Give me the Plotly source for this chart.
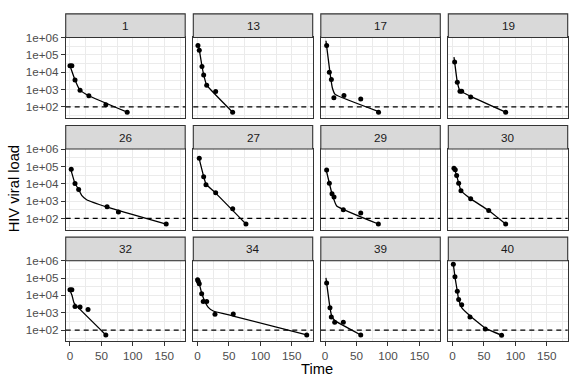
import plotly.graph_objects as go

# ---------------- data (log10 viral load) ----------------
patients = ["1", "13", "17", "19", "26", "27", "29", "30", "32", "34", "39", "40"]

obs_time = {
    "1":  [0, 3, 8, 16, 30, 57, 91],
    "13": [0.6, 2.7, 7, 9.7, 14.5, 28.8, 55.8],
    "17": [2.5, 6.8, 10, 14, 30, 56.7, 85],
    "19": [3.3, 7.5, 11.8, 14.5, 28.8, 84.5],
    "26": [2, 8, 13.8, 59, 77, 153],
    "27": [2.7, 9.7, 13.4, 28.8, 55.9, 77],
    "29": [2.5, 6.8, 11, 14.2, 29, 56.7, 84.7],
    "30": [2.2, 4.3, 6.5, 9.7, 13.4, 28.8, 57.5, 84.5],
    "32": [0, 3, 8, 16, 28.7, 57],
    "34": [0, 1.1, 2.7, 6.5, 9, 14.5, 27.7, 56.8, 173.7],
    "39": [2.5, 7.8, 9.9, 15.3, 29, 56.7],
    "40": [1.2, 3.8, 7.5, 9.7, 14.5, 27.7, 52, 78],
}
obs_log10 = {
    "1":  [4.37, 4.37, 3.55, 2.96, 2.64, 2.12, 1.69],
    "13": [5.54, 5.26, 4.33, 3.83, 3.25, 2.88, 1.69],
    "17": [5.54, 4.0, 3.57, 2.52, 2.66, 2.45, 1.69],
    "19": [4.58, 3.42, 2.9, 2.9, 2.56, 1.69],
    "26": [4.84, 4.01, 3.67, 2.68, 2.37, 1.68],
    "27": [5.47, 4.41, 3.94, 3.48, 2.56, 1.68],
    "29": [4.8, 4.03, 3.42, 3.23, 2.5, 2.31, 1.68],
    "30": [4.89, 4.81, 4.47, 4.03, 3.59, 3.13, 2.46, 1.68],
    "32": [4.33, 4.33, 3.36, 3.33, 3.18, 1.72],
    "34": [4.9, 4.81, 4.67, 4.1, 3.65, 3.65, 2.91, 2.93, 1.72],
    "39": [4.71, 3.29, 2.76, 2.45, 2.45, 1.72],
    "40": [5.79, 5.07, 4.24, 3.76, 3.46, 2.76, 2.06, 1.7],
}

fit_time = {
    "1":  [0, 8, 16, 30, 91],
    "13": [0.6, 2.7, 7, 9.7, 14.5, 55.8],
    "17": [1.4, 7.8, 11.5, 16, 85.2],
    "19": [2.2, 3.3, 7.5, 11.8, 28.8, 84.5],
    "26": [0.5, 8, 13.8, 18.6, 26.5, 59, 153],
    "27": [1.7, 9.7, 13.4, 28.8, 77],
    "29": [1.4, 6.8, 11, 18.5, 84.7],
    "30": [2.2, 6.5, 9.7, 13.4, 28.8, 57.5, 84.5],
    "32": [0, 3.2, 6.4, 11.6, 57],
    "34": [0, 2.7, 6.5, 11.8, 17, 25, 56.8, 173.7],
    "39": [1.4, 7.8, 10.5, 15.3, 56.7],
    "40": [1.2, 3.8, 7.5, 9.7, 14.5, 27.7, 52, 78],
}
fit_log10 = {
    "1":  [4.37, 3.55, 2.96, 2.64, 1.69],
    "13": [5.62, 5.3, 4.34, 3.86, 3.25, 1.69],
    "17": [5.81, 3.97, 3.1, 2.72, 1.73],
    "19": [4.86, 4.58, 3.42, 2.93, 2.6, 1.69],
    "26": [4.93, 4.01, 3.67, 3.33, 3.08, 2.66, 1.68],
    "27": [5.56, 4.41, 3.98, 3.46, 1.68],
    "29": [4.85, 4.03, 3.42, 2.72, 1.68],
    "30": [4.93, 4.47, 4.03, 3.6, 3.13, 2.46, 1.68],
    "32": [4.3, 4.01, 3.57, 3.35, 1.72],
    "34": [4.95, 4.67, 4.14, 3.63, 3.31, 3.1, 2.81, 1.72],
    "39": [5.01, 3.29, 2.82, 2.55, 1.72],
    "40": [5.79, 5.07, 4.24, 3.76, 3.29, 2.82, 2.11, 1.7],
}

detection_limit = 100
x_ticks = [0, 50, 100, 150]
y_ticks = [1e2, 1e3, 1e4, 1e5, 1e6]
y_ticklabels = ["1e+02", "1e+03", "1e+04", "1e+05", "1e+06"]

# ---------------- layout geometry ----------------
W, H = 576, 384
FONT = "Liberation Sans, Arial, sans-serif"
col_px = [(65.7, 185.2), (193.3, 312.7), (320.8, 440.3), (448.3, 567.7)]
row_top = [7.0, 120.7, 234.4]   # strip top
STRIP_H = 24.0
PANEL_H = 82.0
x_range = [-6.8, 183.2]
y_range = [1.36, 6.0]

fig = go.Figure()
layout = dict(
    width=W, height=H, margin=dict(l=0, r=0, t=0, b=0),
    paper_bgcolor="white", plot_bgcolor="white", showlegend=False,
    font=dict(family=FONT, color="#4D4D4D"),
)
shapes, annotations = [], []

grid_major = "#EBEBEB"
border = "#333333"

for i, pid in enumerate(patients):
    r, c = divmod(i, 4)
    k = i + 1
    xs = "" if k == 1 else str(k)
    x0p, x1p = col_px[c]
    st = row_top[r]
    ptop = st + STRIP_H
    pbot = ptop + PANEL_H
    xdom = [x0p / W, x1p / W]
    ydom = [1 - pbot / H, 1 - ptop / H]

    bottom = (r == 2)
    left = (c == 0)
    layout["xaxis" + xs] = dict(
        domain=xdom, anchor="y" + xs, range=x_range,
        tickvals=x_ticks, showticklabels=bottom,
        ticks="outside" if bottom else "", ticklen=3.7, tickwidth=1.1, tickcolor=border,
        tickfont=dict(size=11.7, color="#4D4D4D", family=FONT),
        showgrid=True, gridcolor=grid_major, gridwidth=1.3, zeroline=False,
        minor=dict(tickvals=[25, 75, 125, 175], showgrid=True, gridcolor=grid_major,
                   gridwidth=0.6, ticks=""),
        showline=True, mirror=True, linecolor=border, linewidth=1.1,
    )
    layout["yaxis" + xs] = dict(
        domain=ydom, anchor="x" + xs, type="log", range=y_range,
        tickvals=y_ticks, ticktext=y_ticklabels, showticklabels=left,
        ticks="outside" if left else "", ticklen=3.7, tickwidth=1.1, tickcolor=border,
        tickfont=dict(size=11.7, color="#4D4D4D", family=FONT),
        showgrid=True, gridcolor=grid_major, gridwidth=1.3, zeroline=False,
        minor=dict(tickvals=[10 ** 1.5, 10 ** 2.5, 10 ** 3.5, 10 ** 4.5, 10 ** 5.5],
                   showgrid=True, gridcolor=grid_major, gridwidth=0.6, ticks=""),
        showline=True, mirror=True, linecolor=border, linewidth=1.1,
    )

    fig.add_trace(go.Scatter(
        x=fit_time[pid], y=[10 ** v for v in fit_log10[pid]],
        mode="lines", line=dict(color="black", width=1.3, shape="spline", smoothing=0.3),
        xaxis="x" + xs, yaxis="y" + xs, hoverinfo="skip"))
    fig.add_trace(go.Scatter(
        x=obs_time[pid], y=[10 ** v for v in obs_log10[pid]],
        mode="markers", marker=dict(color="black", size=5),
        xaxis="x" + xs, yaxis="y" + xs))

    # detection limit line
    shapes.append(dict(type="line", xref="x" + xs + " domain", x0=0, x1=1,
                       yref="y" + xs, y0=detection_limit, y1=detection_limit,
                       line=dict(color="black", width=1.2, dash="5px,4px"), layer="above"))
    # strip
    shapes.append(dict(type="rect", xref="paper", yref="paper",
                       x0=x0p / W, x1=x1p / W, y0=1 - ptop / H, y1=1 - st / H,
                       fillcolor="#D9D9D9", line=dict(color=border, width=1.1)))
    annotations.append(dict(text=pid, xref="paper", yref="paper",
                            x=(x0p + x1p) / 2 / W, y=1 - (st + STRIP_H / 2) / H,
                            xanchor="center", yanchor="middle", showarrow=False,
                            font=dict(size=11.7, color="#1A1A1A", family=FONT)))

annotations.append(dict(text="Time", xref="paper", yref="paper",
                        x=(col_px[0][0] + col_px[3][1]) / 2 / W, y=1 - 369 / H,
                        xanchor="center", yanchor="middle", showarrow=False,
                        font=dict(size=14.7, color="black", family=FONT)))
annotations.append(dict(text="HIV viral load", xref="paper", yref="paper",
                        x=14 / W, y=1 - ((row_top[0] + STRIP_H) + (row_top[2] + STRIP_H + PANEL_H)) / 2 / H,
                        xanchor="center", yanchor="middle", showarrow=False, textangle=-90,
                        font=dict(size=14.7, color="black", family=FONT)))

layout["shapes"] = shapes
layout["annotations"] = annotations
fig.update_layout(**layout)
fig.write_html("out.html", config={"displayModeBar": False},
               post_script="document.body.style.margin='0';document.body.style.overflow='hidden';")
